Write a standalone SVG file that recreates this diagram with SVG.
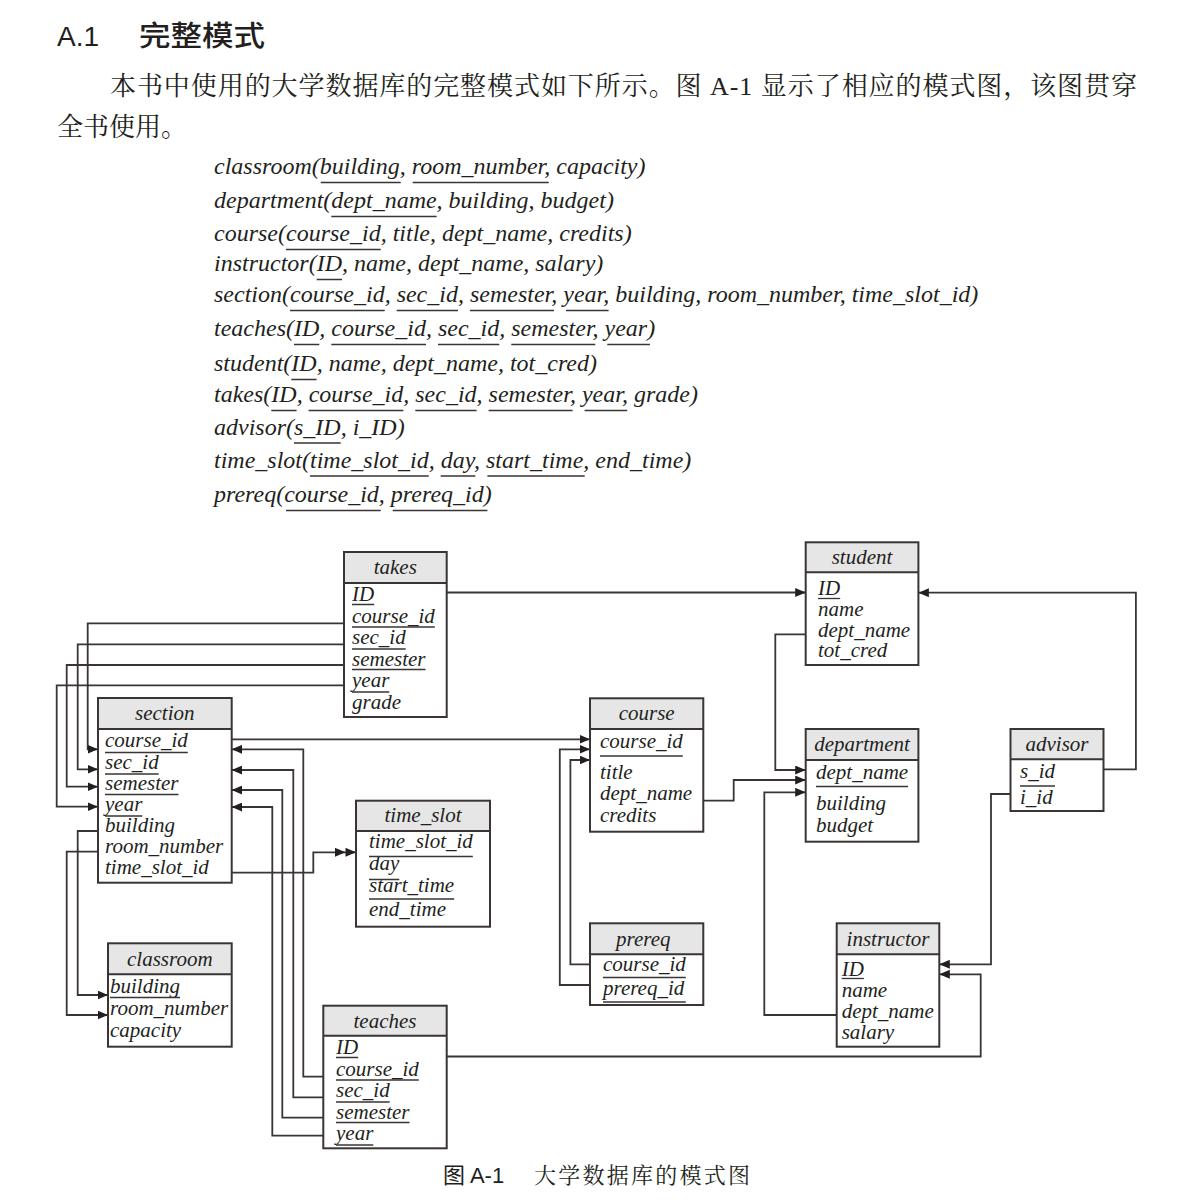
<svg xmlns="http://www.w3.org/2000/svg" width="1183" height="1204" viewBox="0 0 1183 1204">
<style>
.bg{fill:#ffffff}
.hd{fill:#e6e6e6;stroke:none}
.bx{fill:none;stroke:#3a3435;stroke-width:2}
.sep{stroke:#3a3435;stroke-width:2}
.ttl{font-family:"Liberation Serif",serif;font-style:italic;font-size:21px;fill:#231f20;text-anchor:middle}
.at{font-family:"Liberation Serif",serif;font-style:italic;font-size:21px;fill:#231f20}
.ul{fill:none;stroke:#3a3435;stroke-width:1.3}
.sch{font-family:"Liberation Serif",serif;font-style:italic;font-size:24px;fill:#231f20}
.sul{fill:none;stroke:#3a3435;stroke-width:1.4}
.conn{fill:none;stroke:#3a3435;stroke-width:1.8}
.cjk{font-family:"Noto Serif CJK SC","Noto Sans CJK SC",sans-serif;fill:#231f20}
.hsans{font-family:"Liberation Sans","Noto Sans CJK SC",sans-serif;fill:#231f20}
</style>
<defs>
<marker id="arr" markerUnits="userSpaceOnUse" markerWidth="11" markerHeight="9" refX="10.5" refY="4.5" orient="auto">
<path d="M0,0 L10.5,4.5 L0,9 z" fill="#231f20"/>
</marker>
<marker id="arr2" markerUnits="userSpaceOnUse" markerWidth="21" markerHeight="9" refX="21" refY="4.5" orient="auto">
<path d="M0,0 L10.5,4.5 L0,9 z M10.5,0 L21,4.5 L10.5,9 z" fill="#231f20"/>
</marker>
</defs>
<rect class="bg" x="0" y="0" width="1183" height="1204"/>

<g id="heading">
<text class="hsans" x="57" y="46" font-size="28">A.1</text>
<text class="hsans" x="139" y="46" font-size="28" font-weight="500" textLength="126" lengthAdjust="spacingAndGlyphs" style="font-family:'Noto Sans CJK SC',sans-serif">完整模式</text>
</g>

<g id="intro">
<text class="cjk" x="110" y="95" font-size="26" textLength="1027" lengthAdjust="spacing">本书中使用的大学数据库的完整模式如下所示。图 <tspan style="font-family:'Liberation Serif',serif">A-1</tspan> 显示了相应的模式图，该图贯穿</text>
<text class="cjk" x="57" y="136" font-size="26">全书使用。</text>
</g>

<g id="schema">
<text class="sch" x="214" y="174">classroom(building, room_number, capacity)</text>
<text class="sch" x="214" y="208">department(dept_name, building, budget)</text>
<text class="sch" x="214" y="241">course(course_id, title, dept_name, credits)</text>
<text class="sch" x="214" y="271">instructor(ID, name, dept_name, salary)</text>
<text class="sch" x="214" y="302">section(course_id, sec_id, semester, year, building, room_number, time_slot_id)</text>
<text class="sch" x="214" y="336">teaches(ID, course_id, sec_id, semester, year)</text>
<text class="sch" x="214" y="371">student(ID, name, dept_name, tot_cred)</text>
<text class="sch" x="214" y="402">takes(ID, course_id, sec_id, semester, year, grade)</text>
<text class="sch" x="214" y="435">advisor(s_ID, i_ID)</text>
<text class="sch" x="214" y="467.5">time_slot(time_slot_id, day, start_time, end_time)</text>
<text class="sch" x="214" y="502">prereq(course_id, prereq_id)</text>
<path class="sul" d="M320.7,182.5H400.7 M412.7,182.5H548.7
M331.3,216.5H436.6
M286,249.5H380.7
M316.7,279.5H342
M290,310.5H384.7 M396.7,310.5H458 M470,310.5H554 M566,310.5H608.6
M294,344.5H319.3 M331.3,344.5H426 M438,344.5H499.3 M511.3,344.5H595.3 M607.3,344.5H649.9
M291.3,379.5H316.6
M271.3,410.5H296.6 M308.6,410.5H403.3 M415.3,410.5H476.6 M488.6,410.5H572.6 M584.6,410.5H627.2
M294,443H340.7
M310,476H428.7 M440.7,476H475.4 M487.4,476H584.7
M286,510.5H380.7 M392.7,510.5H487.4"/>
</g>

<g id="connectors">
<path class="conn" marker-end="url(#arr)" d="M446.7,592.5H805.7"/>
<path class="conn" marker-end="url(#arr)" d="M344,623.3H87.7V749.3H98"/>
<path class="conn" marker-end="url(#arr)" d="M344,644.3H77.7V769.3H98"/>
<path class="conn" marker-end="url(#arr)" d="M344,665H66.7V786.7H98"/>
<path class="conn" marker-end="url(#arr)" d="M344,685.3H56.7V806.7H98"/>
<path class="conn" marker-end="url(#arr)" d="M231.7,739.3H590"/>
<path class="conn" marker-end="url(#arr)" d="M98,831H77.7V995H108"/>
<path class="conn" marker-end="url(#arr)" d="M98,851.7H66.7V1015H108"/>
<path class="conn" marker-end="url(#arr2)" d="M231.7,872.7H313.3V852.3H356"/>
<path class="conn" marker-end="url(#arr)" d="M323.3,1076.7H303.3V749.3H231.7"/>
<path class="conn" marker-end="url(#arr)" d="M323.3,1097.3H293.3V770H231.7"/>
<path class="conn" marker-end="url(#arr)" d="M323.3,1117.7H282.3V790H231.7"/>
<path class="conn" marker-end="url(#arr)" d="M323.3,1135.7H272.3V807H231.7"/>
<path class="conn" marker-end="url(#arr)" d="M446.7,1056.5H980.7V974.3H939.3"/>
<path class="conn" marker-end="url(#arr)" d="M590,964.3H570.4V760H590"/>
<path class="conn" marker-end="url(#arr)" d="M590,985H559.8V749.3H590"/>
<path class="conn" marker-end="url(#arr)" d="M703.3,800.7H733.7V780H805.7"/>
<path class="conn" marker-end="url(#arr)" d="M805.7,634.3H775.3V770H805.7"/>
<path class="conn" marker-end="url(#arr)" d="M836.7,1015H764.3V792.3H805.7"/>
<path class="conn" marker-end="url(#arr)" d="M1103.5,769.3H1135.9V592.7H918.4"/>
<path class="conn" marker-end="url(#arr)" d="M1010.5,794H991V964.3H939.3"/>
</g>

<g id="takes">
<rect class="hd" x="344" y="552" width="102.7" height="31"/>
<line class="sep" x1="344" y1="583" x2="446.7" y2="583"/>
<rect class="bx" x="344" y="552" width="102.7" height="165"/>
<text class="ttl" x="395.3" y="574">takes</text>
<text class="at" x="352" y="601">ID</text>
<text class="at" x="352" y="622.5">course_id</text>
<text class="at" x="352" y="644">sec_id</text>
<text class="at" x="352" y="665.5">semester</text>
<text class="at" x="352" y="687">year</text>
<text class="at" x="352" y="708.5">grade</text>
<path class="ul" d="M352,604.5H374.2 M352,627H434.8 M352,649H405.7 M352,669.5H425.5 M352,692H389.3"/>
</g>

<g id="section">
<rect class="hd" x="98" y="698" width="133.7" height="31"/>
<line class="sep" x1="98" y1="729" x2="231.7" y2="729"/>
<rect class="bx" x="98" y="698" width="133.7" height="184.7"/>
<text class="ttl" x="164.8" y="720">section</text>
<text class="at" x="105" y="747">course_id</text>
<text class="at" x="105" y="768.5">sec_id</text>
<text class="at" x="105" y="790">semester</text>
<text class="at" x="105" y="811">year</text>
<text class="at" x="105" y="832">building</text>
<text class="at" x="105" y="853">room_number</text>
<text class="at" x="105" y="874">time_slot_id</text>
<path class="ul" d="M105,752.5H187.8 M105,774H158.7 M105,794.5H178.5 M105,816H142.3"/>
</g>

<g id="time_slot">
<rect class="hd" x="356" y="800.7" width="134" height="30.3"/>
<line class="sep" x1="356" y1="831" x2="490" y2="831"/>
<rect class="bx" x="356" y="800.7" width="134" height="126"/>
<text class="ttl" x="423" y="822">time_slot</text>
<text class="at" x="369" y="848">time_slot_id</text>
<text class="at" x="369" y="870">day</text>
<text class="at" x="369" y="892">start_time</text>
<text class="at" x="369" y="916">end_time</text>
<path class="ul" d="M369,856.5H472.8 M369,879.5H399.3 M369,899H454.2"/>
</g>

<g id="classroom">
<rect class="hd" x="108" y="943.3" width="123.7" height="31"/>
<line class="sep" x1="108" y1="974.3" x2="231.7" y2="974.3"/>
<rect class="bx" x="108" y="943.3" width="123.7" height="103.4"/>
<text class="ttl" x="169.8" y="965.5">classroom</text>
<text class="at" x="110" y="993">building</text>
<text class="at" x="110" y="1015">room_number</text>
<text class="at" x="110" y="1037">capacity</text>
<path class="ul" d="M110,997.5H180"/>
</g>

<g id="teaches">
<rect class="hd" x="323.3" y="1005.7" width="123.4" height="30"/>
<line class="sep" x1="323.3" y1="1035.7" x2="446.7" y2="1035.7"/>
<rect class="bx" x="323.3" y="1005.7" width="123.4" height="142.6"/>
<text class="ttl" x="385" y="1028">teaches</text>
<text class="at" x="336" y="1054">ID</text>
<text class="at" x="336" y="1075.5">course_id</text>
<text class="at" x="336" y="1097">sec_id</text>
<text class="at" x="336" y="1118.5">semester</text>
<text class="at" x="336" y="1140">year</text>
<path class="ul" d="M336,1057.5H358.2 M336,1080H418.8 M336,1102H389.7 M336,1122.5H409.5 M336,1145H373.3"/>
</g>

<g id="course">
<rect class="hd" x="590" y="698.3" width="113.3" height="30.7"/>
<line class="sep" x1="590" y1="729" x2="703.3" y2="729"/>
<rect class="bx" x="590" y="698.3" width="113.3" height="133.4"/>
<text class="ttl" x="646.7" y="720">course</text>
<text class="at" x="600" y="748">course_id</text>
<text class="at" x="600" y="779">title</text>
<text class="at" x="600" y="800">dept_name</text>
<text class="at" x="600" y="822">credits</text>
<path class="ul" d="M600,756H682.8"/>
</g>

<g id="prereq">
<rect class="hd" x="590" y="923.3" width="113.3" height="31"/>
<line class="sep" x1="590" y1="954.3" x2="703.3" y2="954.3"/>
<rect class="bx" x="590" y="923.3" width="113.3" height="81.7"/>
<text class="ttl" x="643.3" y="945.5">prereq</text>
<text class="at" x="603" y="971">course_id</text>
<text class="at" x="603" y="995">prereq_id</text>
<path class="ul" d="M603,977.5H685.8 M603,1002H685.8"/>
</g>

<g id="student">
<rect class="hd" x="805.7" y="542.3" width="112.7" height="30"/>
<line class="sep" x1="805.7" y1="572.3" x2="918.4" y2="572.3"/>
<rect class="bx" x="805.7" y="542.3" width="112.7" height="122.7"/>
<text class="ttl" x="862" y="564">student</text>
<text class="at" x="818" y="595">ID</text>
<text class="at" x="818" y="615.5">name</text>
<text class="at" x="818" y="636.5">dept_name</text>
<text class="at" x="818" y="657">tot_cred</text>
<path class="ul" d="M818,598.5H840.2"/>
</g>

<g id="department">
<rect class="hd" x="805.7" y="729" width="112.7" height="31"/>
<line class="sep" x1="805.7" y1="760" x2="918.4" y2="760"/>
<rect class="bx" x="805.7" y="729" width="112.7" height="112.7"/>
<text class="ttl" x="862" y="751">department</text>
<text class="at" x="816" y="779">dept_name</text>
<text class="at" x="816" y="810">building</text>
<text class="at" x="816" y="832">budget</text>
<path class="ul" d="M816,786.5H908.1"/>
</g>

<g id="advisor">
<rect class="hd" x="1010.5" y="729" width="93" height="30.3"/>
<line class="sep" x1="1010.5" y1="759.3" x2="1103.5" y2="759.3"/>
<rect class="bx" x="1010.5" y="729" width="93" height="82"/>
<text class="ttl" x="1057" y="751">advisor</text>
<text class="at" x="1020" y="778">s_id</text>
<text class="at" x="1020" y="804">i_id</text>
<path class="ul" d="M1020,786H1055"/>
</g>

<g id="instructor">
<rect class="hd" x="836.7" y="923.3" width="102.6" height="31"/>
<line class="sep" x1="836.7" y1="954.3" x2="939.3" y2="954.3"/>
<rect class="bx" x="836.7" y="923.3" width="102.6" height="123.4"/>
<text class="ttl" x="888" y="945.5">instructor</text>
<text class="at" x="841.7" y="976">ID</text>
<text class="at" x="841.7" y="997">name</text>
<text class="at" x="841.7" y="1017.5">dept_name</text>
<text class="at" x="841.7" y="1038.5">salary</text>
<path class="ul" d="M841.7,978.5H863.9"/>
</g>

<g id="caption">
<text class="hsans" x="443" y="1183" font-size="22" style="font-family:'Noto Sans CJK SC',sans-serif">图 <tspan style="font-family:'Liberation Sans',sans-serif">A-1</tspan></text>
<text class="cjk" x="534" y="1183" font-size="22" textLength="216" lengthAdjust="spacing">大学数据库的模式图</text>
</g>
</svg>
